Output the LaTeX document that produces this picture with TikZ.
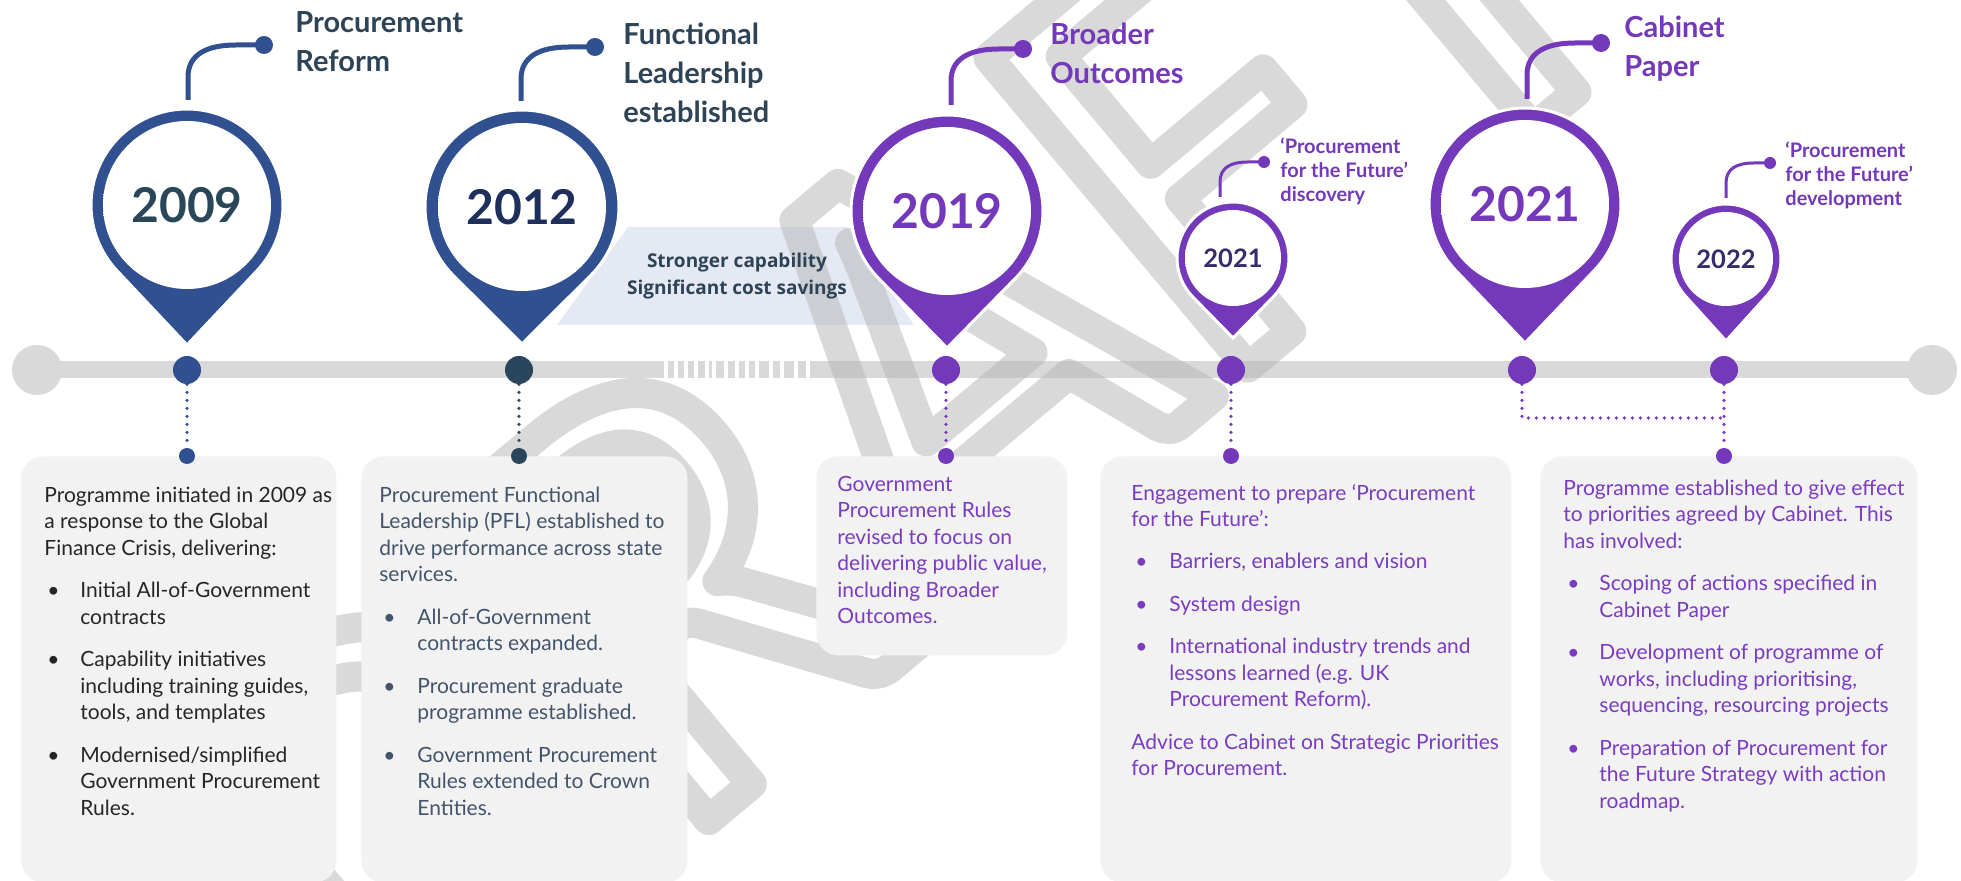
\documentclass[tikz,border=0pt]{standalone}
\usepackage{fontspec}
\setmainfont{Lato}
\newfontfamily\carl{Carlito}
\newfontfamily\osans{Open Sans}
\usetikzlibrary{calc}
\definecolor{pblue}{HTML}{30508F}
\definecolor{pslate}{HTML}{2A465C}
\definecolor{headslate}{HTML}{2E4356}
\definecolor{ppurple}{HTML}{7438BA}
\definecolor{txtpurple}{HTML}{7A3CC0}
\definecolor{darkyear}{HTML}{3A2C6B}
\definecolor{boxgray}{HTML}{F2F2F2}
\definecolor{bargray}{HTML}{D9D9D9}
\definecolor{bandblue}{HTML}{E4E9F3}
\definecolor{boxtwotxt}{HTML}{44546A}
\definecolor{boxonetxt}{HTML}{262626}
\definecolor{yrA}{HTML}{2A4759}
\definecolor{yrB}{HTML}{1F2F5C}
\definecolor{wmgray}{HTML}{B4B4B4}
\pgfdeclareradialshading{innerglow}{\pgfpoint{0bp}{0bp}}{color(0bp)=(white); color(38bp)=(white); color(45bp)=(black!12); color(50bp)=(black!35)}
\tikzset{
  pinbody/.style={fill=#1, draw=white, line width=1.5pt},
  innerdisk/.style={circle, inner sep=0pt, minimum size=#1, shading=innerglow},
  tldot/.style={circle, inner sep=0pt, minimum size=14pt, fill=#1},
  lowdot/.style={circle, inner sep=0pt, minimum size=8pt, fill=#1},
  hookdot/.style={circle, inner sep=0pt, minimum size=9pt, fill=#1},
  hookdotsm/.style={circle, inner sep=0pt, minimum size=6pt, fill=#1},
  hookline/.style={draw=#1, line width=2.5pt},
  hooklinesm/.style={draw=#1, line width=1.5pt},
  dotline/.style={draw=#1, line width=1.8pt, line cap=round, dash pattern=on 0pt off 4pt},
  infobox/.style={fill=boxgray, rounded corners=11pt, inner sep=0pt, anchor=north west},
  bigyear/.style={font=\fontsize{24}{28}\selectfont\bfseries},
  smallyear/.style={font=\fontsize{12.75}{15}\selectfont\bfseries},
  bighead/.style={anchor=base west, inner sep=0pt, align=left, font=\fontsize{14.5}{19.5}\selectfont\bfseries},
  smallhead/.style={anchor=base west, inner sep=0pt, align=left, font=\fontsize{10}{12}\selectfont\bfseries},
  boxtext/.style={anchor=base west, inner sep=0pt, align=left, font=\fontsize{10.5}{13.25}\selectfont},
}
\newcommand\pinpath[5]{%
  \pgfmathsetmacro\pinalpha{acos(#3/#4)}%
  \path[pinbody=#5] (#1,#2+#4) -- ($(#1,#2)+(90-\pinalpha:#3)$) arc[start angle=90-\pinalpha, end angle=-270+\pinalpha, radius=#3] -- cycle;
}
\newcommand\bighook[5]{%
  \draw[hookline=#5] (#1,#2) -- (#1,#3+32) .. controls (#1,#3+10) and (#1+18,#3) .. (#1+48,#3) -- (#4.center);
}
\newcommand\smallhook[5]{%
  \draw[hooklinesm=#5] (#1,#2) -- (#1,#3+20) .. controls (#1,#3+6) and (#1+10,#3) .. (#1+28,#3) -- (#4.center);
}
\newcommand\blt[2]{\makebox[#2][l]{\hspace{#1}\textbullet}}
\begin{document}
\begin{tikzpicture}[x=0.5pt, y=-0.5pt]
\useasboundingbox (0,0) rectangle (1961,881);
\clip (0,0) rectangle (1961,881);
\fill[white] (0,0) rectangle (1961,881);

% timeline bar
\node[circle, fill=bargray, inner sep=0pt, minimum size=25pt] (tlL) at (37,370) {};
\node[circle, fill=bargray, inner sep=0pt, minimum size=25pt] (tlR) at (1932,370) {};
\draw[bargray, line width=8.5pt] (tlL.center) -- (tlR.center);

% highlight band
\fill[bandblue] (628,227) -- (847,227) -- (914,325) -- (557,325) -- cycle;

% watermark
\begin{scope}[opacity=0.5]
\node[rotate=40, inner sep=0pt, text=wmgray, font=\carl\fontsize{315}{315}\selectfont] (wm) at (895,400) {\special{pdf:literal 1 Tr 15 w 1 j}DRAFT\special{pdf:literal 0 Tr}};
\end{scope}

% white stripes on bar
\fill[white] (664,353) rectangle (688,357);
\foreach \sx/\st/\sb in {664/353/379, 674/357/379, 684/357/379, 694/357/379, 705/357/379, 712/354/379, 724/357/383, 735/357/383, 745/357/380, 755/357/380, 769/357/380, 780/357/380, 794/357/380, 806/357/380}
  \fill[white] (\sx,\st) rectangle (\sx+4,\sb);

% band text
\node[anchor=base, inner sep=0pt, align=center, text=headslate, font=\osans\fontsize{9.5}{13.5}\selectfont\bfseries] (band) at (737,295) {Stronger capability\\Significant cost savings};

% boxes
\node[infobox, minimum width=157.5pt, minimum height=213pt] (box1) at (21,456) {};
\node[infobox, minimum width=163pt, minimum height=213pt] (box2) at (361,456) {};
\node[infobox, minimum width=125.5pt, minimum height=99.5pt] (box3) at (816,456) {};
\node[infobox, minimum width=205.5pt, minimum height=213pt] (box4) at (1100,456) {};
\node[infobox, minimum width=188.5pt, minimum height=213pt] (box5) at (1540,456) {};

% box texts (anchored on the last line's baseline)
\node[boxtext, text=boxonetxt] (tx1) at (44,815) {Programme initiated in 2009 as\\
a response to the Global\\
Finance Crisis, delivering:\\[8pt]
\blt{1.5pt}{18pt}Initial All-of-Government\\
\hspace*{18pt}contracts\\[8pt]
\blt{1.5pt}{18pt}Capability initiatives\\
\hspace*{18pt}including training guides,\\
\hspace*{18pt}tools, and templates\\[8pt]
\blt{1.5pt}{18pt}Modernised/simplified\\
\hspace*{18pt}Government Procurement\\
\hspace*{18pt}Rules.};

\node[boxtext, text=boxtwotxt] (tx2) at (379,815) {Procurement Functional\\
Leadership (PFL) established to\\
drive performance across state\\
services.\\[8pt]
\blt{2pt}{19pt}All-of-Government\\
\hspace*{19pt}contracts expanded.\\[8pt]
\blt{2pt}{19pt}Procurement graduate\\
\hspace*{19pt}programme established.\\[8pt]
\blt{2pt}{19pt}Government Procurement\\
\hspace*{19pt}Rules extended to Crown\\
\hspace*{19pt}Entities.};

\node[boxtext, text=txtpurple] (tx3) at (837,624) {Government\\
Procurement Rules\\
revised to focus on\\
delivering public value,\\
including Broader\\
Outcomes.};

\node[boxtext, text=txtpurple] (tx4) at (1131,776) {Engagement to prepare ‘Procurement\\
for the Future’:\\[8pt]
\blt{2pt}{19pt}Barriers, enablers and vision\\[8pt]
\blt{2pt}{19pt}System design\\[8pt]
\blt{2pt}{19pt}International industry trends and\\
\hspace*{19pt}lessons learned (e.g. UK\\
\hspace*{19pt}Procurement Reform).\\[8pt]
Advice to Cabinet on Strategic Priorities\\
for Procurement.};

\node[boxtext, text=txtpurple] (tx5) at (1563,808) {Programme established to give effect\\
to priorities agreed by Cabinet. This\\
has involved:\\[8pt]
\blt{2pt}{18pt}Scoping of actions specified in\\
\hspace*{18pt}Cabinet Paper\\[8pt]
\blt{2pt}{18pt}Development of programme of\\
\hspace*{18pt}works, including prioritising,\\
\hspace*{18pt}sequencing, resourcing projects\\[8pt]
\blt{2pt}{18pt}Preparation of Procurement for\\
\hspace*{18pt}the Future Strategy with action\\
\hspace*{18pt}roadmap.};

% timeline dots and dotted connectors
\node[tldot=pblue] (d2009) at (187,370) {};
\node[lowdot=pblue] (l2009) at (187,456) {};
\draw[dotline=pblue] (d2009) -- (l2009);
\node[tldot=pslate] (d2012) at (519,370) {};
\node[lowdot=pslate] (l2012) at (519,456) {};
\draw[dotline=pslate] (d2012) -- (l2012);
\node[tldot=ppurple] (d2019) at (946,370) {};
\node[lowdot=ppurple] (l2019) at (946,456) {};
\draw[dotline=ppurple] (d2019) -- (l2019);
\node[tldot=ppurple] (d2021a) at (1231,370) {};
\node[lowdot=ppurple] (l2021a) at (1231,456) {};
\draw[dotline=ppurple] (d2021a) -- (l2021a);
\node[tldot=ppurple] (d2021b) at (1522,370) {};
\node[tldot=ppurple] (d2022) at (1724,370) {};
\node[lowdot=ppurple] (l2022) at (1724,456) {};
\coordinate (j2022) at (1724,418);
\draw[dotline=ppurple] (d2022) -- (l2022);
\draw[dotline=ppurple] (d2021b) |- (j2022);

% pins
\pinpath{187}{205}{96}{140}{pblue}
\node[innerdisk=84pt, bigyear, text=yrA] (y2009) at (187,205) {2009};
\pinpath{522}{207}{97}{137}{pblue}
\node[innerdisk=84pt, bigyear, text=yrB] (y2012) at (522,207) {2012};
\pinpath{947}{211}{96}{137}{ppurple}
\node[innerdisk=84pt, bigyear, text=ppurple] (y2019) at (947,211) {2019};
\pinpath{1233}{258}{56}{80}{ppurple}
\node[innerdisk=48pt, smallyear, text=darkyear] (y2021a) at (1233,258) {2021};
\pinpath{1525}{204}{96}{139}{ppurple}
\node[innerdisk=84pt, bigyear, text=ppurple] (y2021b) at (1525,204) {2021};
\pinpath{1726}{259}{55}{82}{ppurple}
\node[innerdisk=47pt, smallyear, text=darkyear] (y2022) at (1726,259) {2022};

% hooks
\node[hookdot=pblue] (k2009) at (264,45) {};
\bighook{188}{100}{45}{k2009}{pblue}
\node[hookdot=pblue] (k2012) at (595,47) {};
\bighook{521}{101}{47}{k2012}{pblue}
\node[hookdot=ppurple] (k2019) at (1023,49) {};
\bighook{951}{105}{49}{k2019}{ppurple}
\node[hookdot=ppurple] (k2021b) at (1601,43) {};
\bighook{1527}{99}{43}{k2021b}{ppurple}
\node[hookdotsm=ppurple] (k2021a) at (1264,162) {};
\smallhook{1220}{197}{162}{k2021a}{ppurple}
\node[hookdotsm=ppurple] (k2022) at (1770,163) {};
\smallhook{1726}{198}{163}{k2022}{ppurple}

% headings (anchored on the last line's baseline)
\node[bighead, text=headslate] (h2009) at (295,72) {Procurement\\Reform};
\node[bighead, text=headslate] (h2012) at (623,123) {Functional\\Leadership\\established};
\node[bighead, text=ppurple] (h2019) at (1050,84) {Broader\\Outcomes};
\node[bighead, text=ppurple] (h2021b) at (1624,77) {Cabinet\\Paper};
\node[smallhead, text=ppurple] (h2021a) at (1280,202) {‘Procurement\\for the Future’\\discovery};
\node[smallhead, text=ppurple] (h2022) at (1785,206) {‘Procurement\\for the Future’\\development};
\end{tikzpicture}
\end{document}
